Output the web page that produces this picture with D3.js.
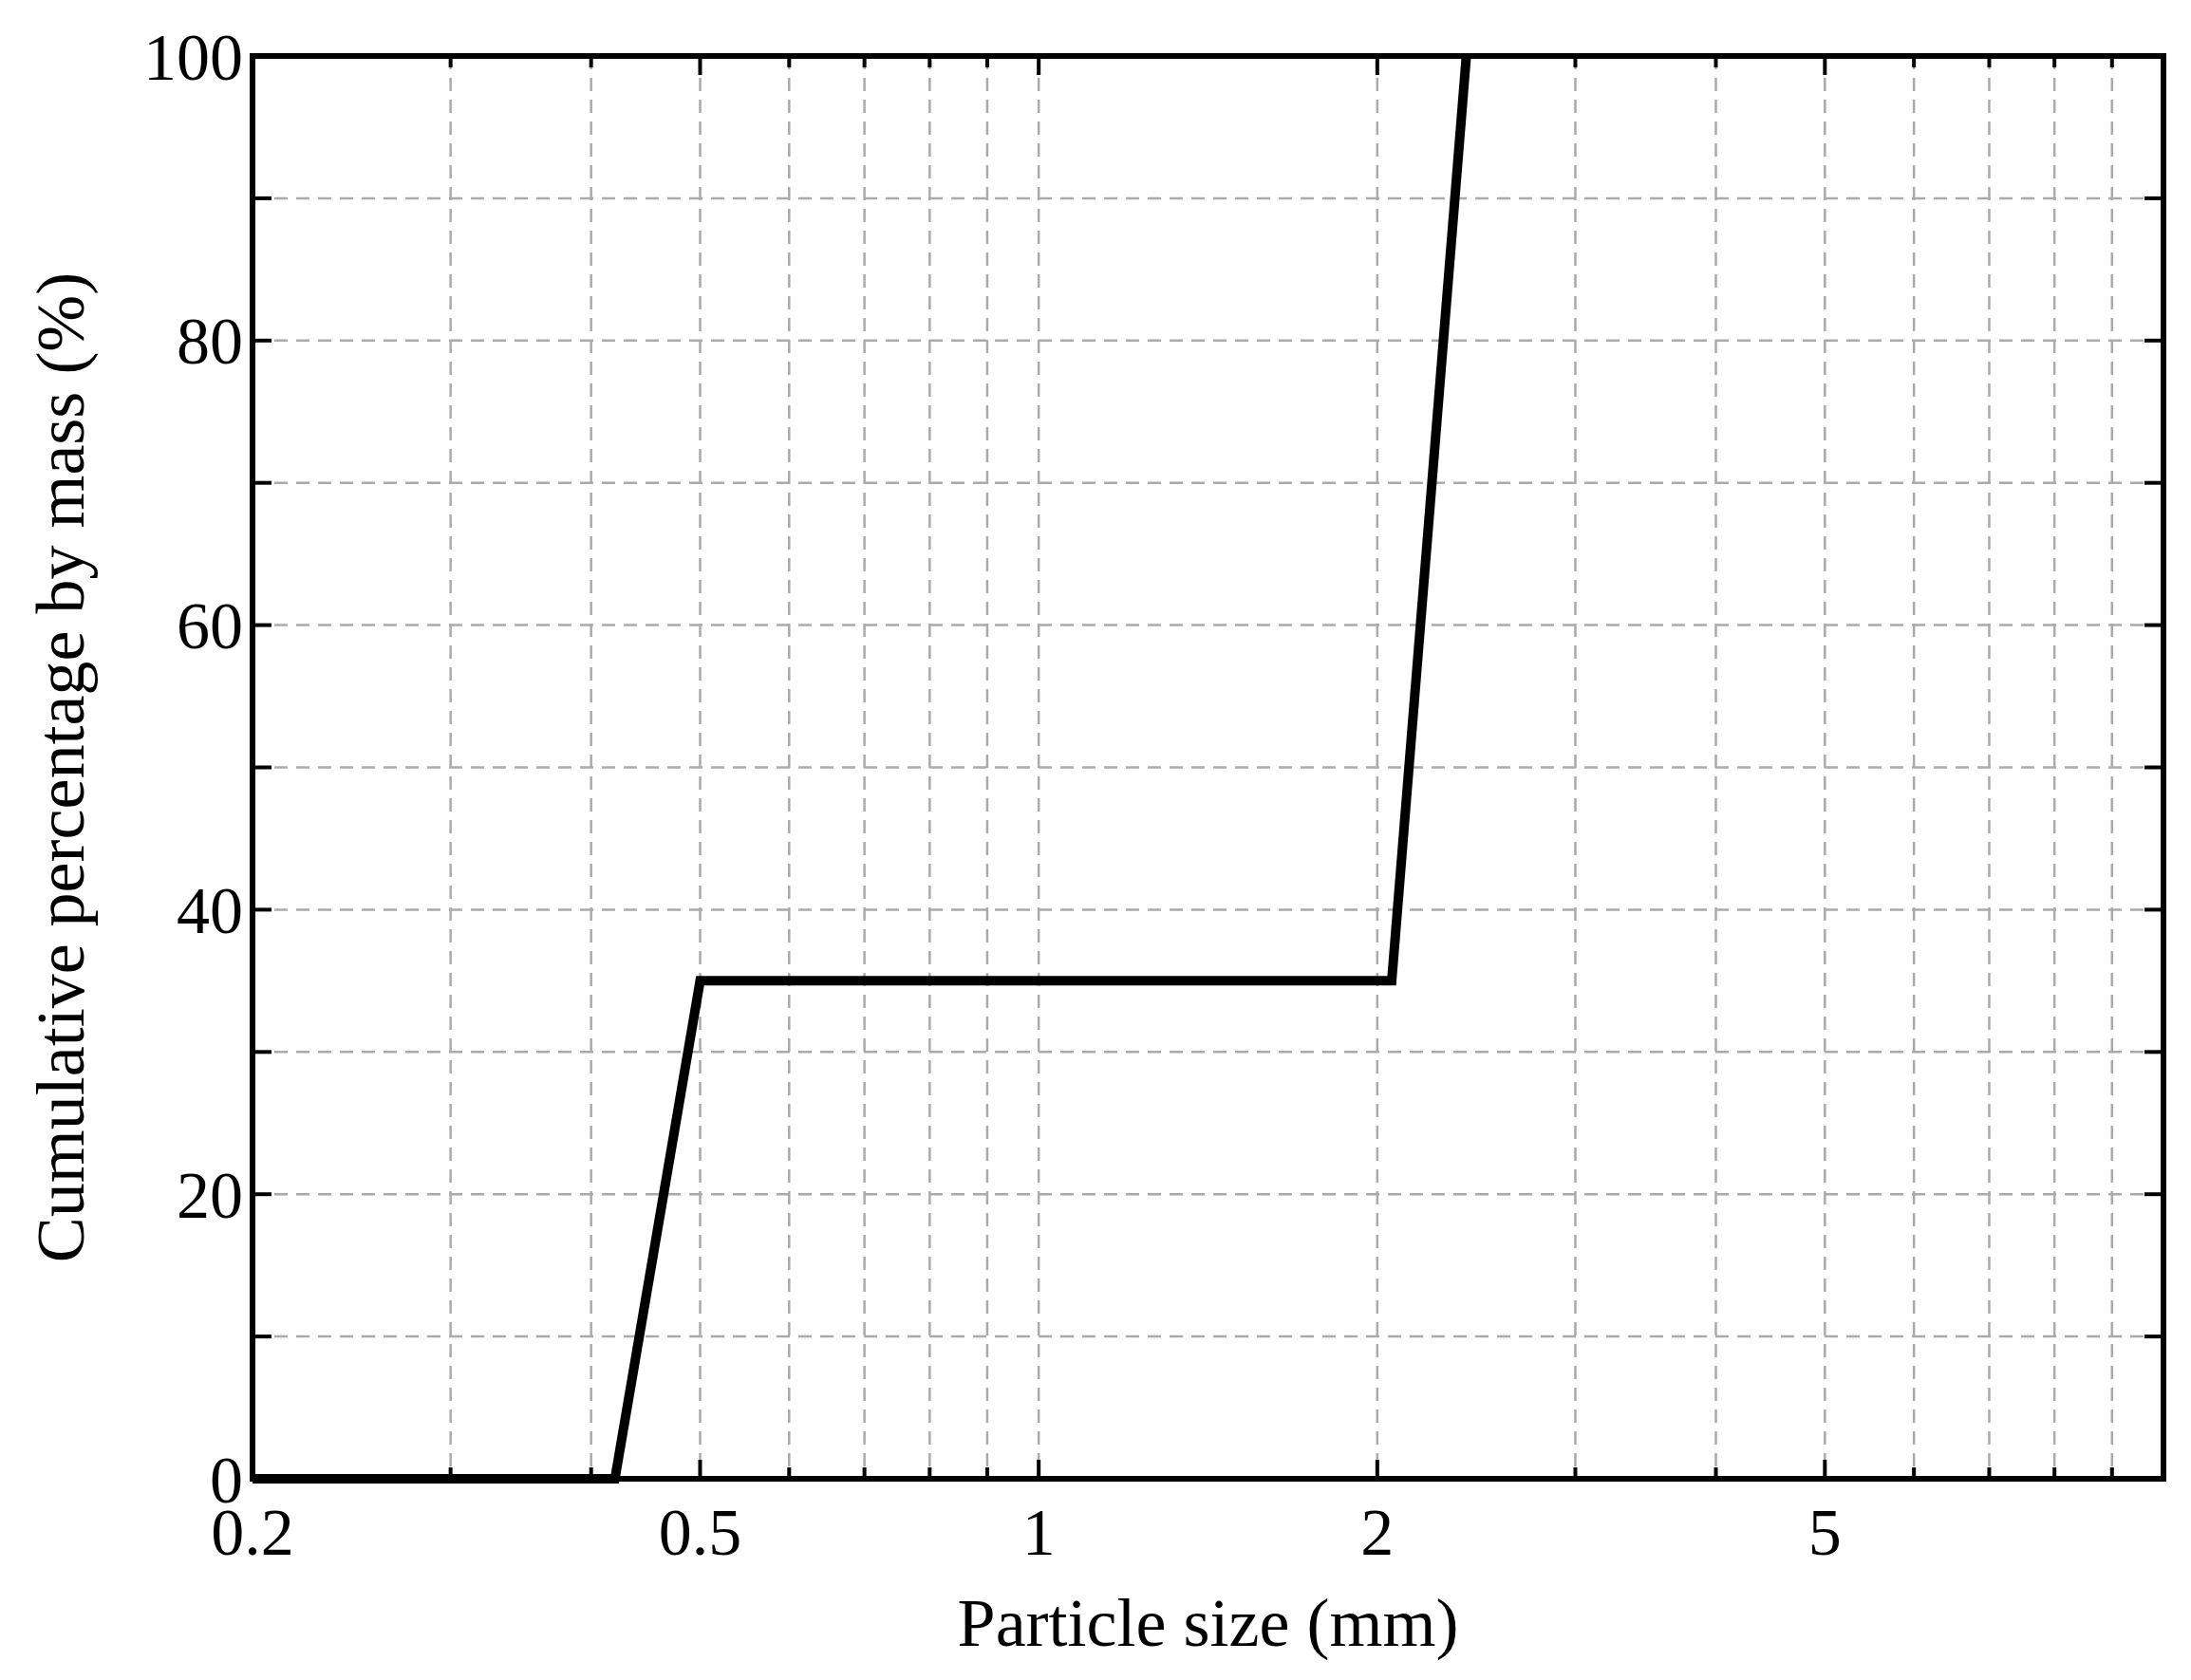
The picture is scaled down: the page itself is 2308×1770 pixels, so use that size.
<!DOCTYPE html>
<html><head><meta charset="utf-8">
<script src="https://cdn.jsdelivr.net/npm/d3@7"></script>
<style>body{margin:0;background:#fff}</style></head>
<body><div id="chart"></div>
<script>
const sizes = [0.2, 0.42, 0.5, 2.06, 2.4];
const cumulative = [0, 0, 35, 35, 100];
const xTickLabels = [0.2, 0.5, 1, 2, 5];
const yTickLabels = [0, 20, 40, 60, 80, 100];

const W = 2308, H = 1770;
const margin = { top: 59, right: 29, bottom: 212, left: 266 };
const width = W - margin.left - margin.right;
const height = H - margin.top - margin.bottom;

const svg = d3.select("#chart").append("svg").attr("width", W).attr("height", H)
    .style("font-family", "'Liberation Serif', serif");
const g = svg.append("g").attr("transform", `translate(${margin.left},${margin.top})`);

const x = d3.scaleLog().domain([0.2, 10]).range([0, width]);
const y = d3.scaleLinear().domain([0, 100]).range([height, 0]);

const xGrid = [0.3,0.4,0.5,0.6,0.7,0.8,0.9,1,2,3,4,5,6,7,8,9];
const yGrid = d3.range(10, 100, 10);

g.selectAll(".vg").data(xGrid).join("line")
    .attr("x1", d => x(d)).attr("x2", d => x(d)).attr("y1", 0).attr("y2", height)
    .attr("stroke", "#aaa").attr("stroke-width", 2.5).attr("stroke-dasharray", "14,9");
g.selectAll(".hg").data(yGrid).join("line")
    .attr("y1", d => y(d)).attr("y2", d => y(d)).attr("x1", 0).attr("x2", width)
    .attr("stroke", "#aaa").attr("stroke-width", 2.5).attr("stroke-dasharray", "14,9");

// inward ticks
const tl = 20;
g.selectAll(".yt").data(d3.range(0, 101, 10)).join("g").each(function(d) {
    const s = d3.select(this);
    s.append("line").attr("x1", 0).attr("x2", tl).attr("y1", y(d)).attr("y2", y(d)).attr("stroke", "#000").attr("stroke-width", 4);
    s.append("line").attr("x1", width - tl).attr("x2", width).attr("y1", y(d)).attr("y2", y(d)).attr("stroke", "#000").attr("stroke-width", 4);
});
g.selectAll(".xt").data(xGrid).join("g").each(function(d) {
    const s = d3.select(this);
    const len = xTickLabels.includes(d) ? tl : tl * 0.6;
    s.append("line").attr("x1", x(d)).attr("x2", x(d)).attr("y1", height).attr("y2", height - len).attr("stroke", "#000").attr("stroke-width", 4);
    s.append("line").attr("x1", x(d)).attr("x2", x(d)).attr("y1", 0).attr("y2", len).attr("stroke", "#000").attr("stroke-width", 4);
});

g.selectAll(".yl").data(yTickLabels).join("text")
    .attr("x", -10).attr("y", d => y(d)).attr("dy", "0.35em").attr("text-anchor", "end")
    .attr("font-size", 70).text(d => d);
g.selectAll(".xl").data(xTickLabels).join("text")
    .attr("x", d => x(d)).attr("y", height + 80).attr("text-anchor", "middle")
    .attr("font-size", 70).text(d => d);

const pts = sizes.map((s, i) => [s, cumulative[i]]);
g.append("path").datum(pts)
    .attr("d", d3.line().x(d => x(d[0])).y(d => y(d[1])))
    .attr("fill", "none").attr("stroke", "#000").attr("stroke-width", 10).attr("stroke-linejoin", "miter");

g.append("rect").attr("width", width).attr("height", height)
    .attr("fill", "none").attr("stroke", "#000").attr("stroke-width", 6);

svg.append("text").attr("x", margin.left + width / 2).attr("y", H - 36)
    .attr("text-anchor", "middle").attr("font-size", 72).text("Particle size (mm)");
svg.append("text").attr("transform", `translate(88,${margin.top + height / 2}) rotate(-90)`)
    .attr("text-anchor", "middle").attr("font-size", 72).text("Cumulative percentage by mass (%)");
</script></body></html>
